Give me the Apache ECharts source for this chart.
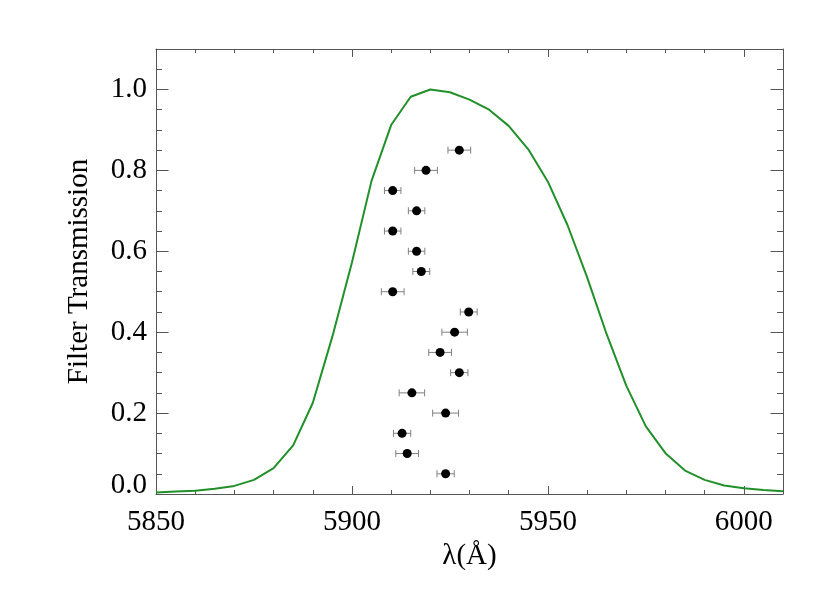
<!DOCTYPE html>
<html>
<head>
<meta charset="utf-8">
<script src="https://cdn.jsdelivr.net/npm/echarts@6/dist/echarts.min.js"></script>
<style>
html,body{margin:0;padding:0;background:#fff;}
#chart{width:830px;height:593px;}
</style>
</head>
<body>
<div id="chart"></div>
<script>
// Filter transmission curve
var wavelengths = [5850,5855,5860,5865,5870,5875,5880,5885,5890,5895,5900,5905,5910,5915,5920,5925,5930,5935,5940,5945,5950,5955,5960,5965,5970,5975,5980,5985,5990,5995,6000,6005,6010];
var transmission = [0.004,0.006,0.008,0.013,0.020,0.035,0.064,0.120,0.225,0.389,0.572,0.774,0.912,0.982,1.000,0.993,0.975,0.950,0.910,0.852,0.772,0.665,0.536,0.395,0.268,0.167,0.101,0.058,0.035,0.021,0.014,0.010,0.007];

// Measured points with horizontal error bars
var pointLambda = [5927.4,5918.9,5910.4,5916.5,5910.4,5916.5,5917.7,5910.4,5929.8,5926.2,5922.5,5927.4,5915.3,5923.9,5912.8,5914.1,5923.9];
var pointLevel  = [0.85,0.80,0.75,0.70,0.65,0.60,0.55,0.50,0.45,0.40,0.35,0.30,0.25,0.20,0.15,0.10,0.05];
var pointErr    = [2.9,2.9,2.1,2.1,2.1,2.1,2.15,2.9,2.15,3.25,2.9,2.2,3.25,3.3,2.2,2.9,2.2];

// Ticks
var xMajorTicks = [5850,5900,5950,6000];
var xMinorTicks = [5860,5870,5880,5890,5910,5920,5930,5940,5960,5970,5980,5990,6010];
var yMajorTicks = [0.0,0.2,0.4,0.6,0.8,1.0];
var yMinorTicks = [0.05,0.1,0.15,0.25,0.3,0.35,0.45,0.5,0.55,0.65,0.7,0.75,0.85,0.9,0.95,1.05];

var X_MIN = 5850, X_MAX = 6010, Y_MIN = 0, Y_MAX = 1.1;
var AX = '#555';
var FONT = 'Liberation Serif';

var curve = wavelengths.map(function(w,i){return [w, transmission[i]];});
var pts = pointLambda.map(function(w,i){return [w, pointLevel[i], pointErr[i]];});

function xAx(pos, major, showLabel, name){
  var a = {
    type:'value', position:pos, min:X_MIN, max:X_MAX, gridIndex:0,
    axisLine:{show:major, onZero:false, lineStyle:{color:AX, width:1}},
    splitLine:{show:false},
    axisTick:{show:true, inside:true, length: major?8:4, customValues: major?xMajorTicks:xMinorTicks, lineStyle:{color:AX, width:1}},
    axisLabel:{show:showLabel, customValues:xMajorTicks, margin:14, color:'#000', fontFamily:FONT, fontSize:29, formatter:function(v){return String(Math.round(v));}}
  };
  if(name){
    a.name = name; a.nameLocation='middle'; a.nameGap=41;
    a.nameTextStyle={color:'#000', fontFamily:FONT, fontSize:29};
  }
  return a;
}
function yAx(pos, major, showLabel, name){
  var a = {
    type:'value', position:pos, min:Y_MIN, max:Y_MAX, gridIndex:0,
    axisLine:{show:major, onZero:false, lineStyle:{color:AX, width:1}},
    splitLine:{show:false},
    axisTick:{show:true, inside:true, length: major?12.5:6, customValues: major?yMajorTicks:yMinorTicks, lineStyle:{color:AX, width:1}},
    axisLabel:{show:showLabel, customValues:yMajorTicks, margin:9, color:'#000', fontFamily:FONT, fontSize:29,
      formatter:function(v){ return v === 0 ? '{z|' + v.toFixed(1) + '}' : v.toFixed(1); },
      rich:{z:{color:'#000', fontFamily:FONT, fontSize:29, padding:[0,0,18,0]}}
    }
  };
  if(name){
    a.name = name; a.nameLocation='middle'; a.nameGap=62;
    a.nameTextStyle={color:'#000', fontFamily:FONT, fontSize:29};
  }
  return a;
}

var chart = echarts.init(document.getElementById('chart'), null, {renderer:'canvas'});
chart.setOption({
  animation:false,
  backgroundColor:'#fff',
  grid:{left:156, top:49, right:47, bottom:99, containLabel:false},
  xAxis:[
    xAx('bottom', true, true, 'λ(Å)'),
    xAx('bottom', false, false),
    xAx('top', true, false),
    xAx('top', false, false)
  ],
  yAxis:[
    yAx('left', true, true, 'Filter Transmission'),
    yAx('left', false, false),
    yAx('right', true, false),
    yAx('right', false, false)
  ],
  series:[
    {
      type:'line', xAxisIndex:0, yAxisIndex:0, data:curve, symbol:'none',
      lineStyle:{color:'#22902a', width:2}, z:2
    },
    {
      type:'custom', xAxisIndex:0, yAxisIndex:0, data:pts, z:3,
      renderItem:function(params, api){
        var x = api.value(0), y = api.value(1), e = api.value(2);
        var p0 = api.coord([x-e, y]);
        var p1 = api.coord([x+e, y]);
        var h = 3.5;
        var st = {stroke:'#808080', lineWidth:1};
        return {type:'group', children:[
          {type:'line', shape:{x1:p0[0], y1:p0[1], x2:p1[0], y2:p1[1]}, style:st},
          {type:'line', shape:{x1:p0[0], y1:p0[1]-h, x2:p0[0], y2:p0[1]+h}, style:st},
          {type:'line', shape:{x1:p1[0], y1:p1[1]-h, x2:p1[0], y2:p1[1]+h}, style:st}
        ]};
      },
      encode:{x:0, y:1}
    },
    {
      type:'scatter', xAxisIndex:0, yAxisIndex:0, z:4,
      data:pts.map(function(p){return [p[0], p[1]];}),
      symbol:'circle', symbolSize:9,
      itemStyle:{color:'#000', opacity:1}
    }
  ]
});
</script>
</body>
</html>
